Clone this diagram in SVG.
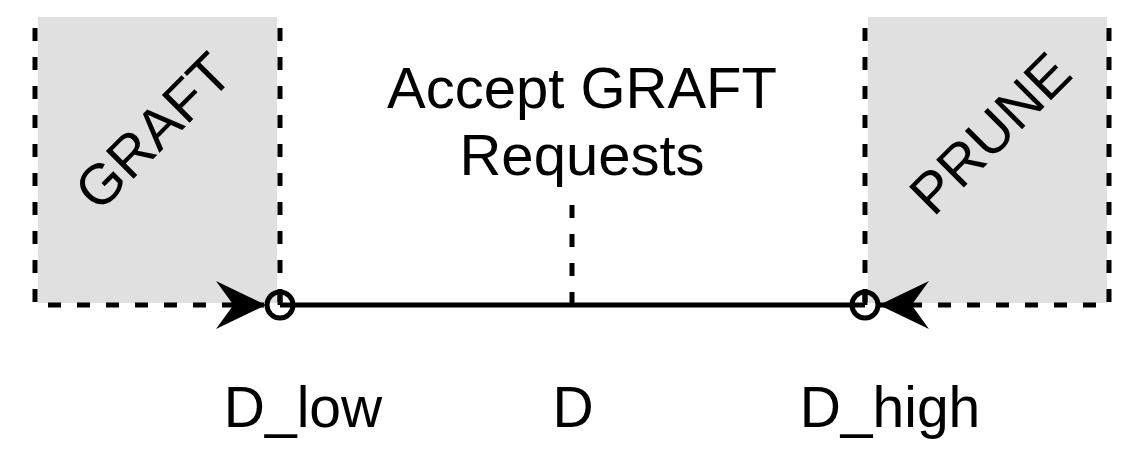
<svg xmlns="http://www.w3.org/2000/svg" width="1130" height="449" viewBox="0 0 1130 449">
<style>
.t{font-family:"Liberation Sans",Arial,sans-serif;font-size:57px;fill:#000;text-anchor:middle}
.dash{fill:none;stroke:#000;stroke-width:5;stroke-dasharray:13 16}
.solid{fill:none;stroke:#000;stroke-width:5}
.box{fill:#e0e0e0;stroke:none}
</style>
<defs>
<marker id="arr" markerUnits="userSpaceOnUse" markerWidth="50" markerHeight="50" viewBox="0 0 46 44" refX="46" refY="22" orient="auto">
<path d="M0,0 L46,22 L0,44 L16,22 Z" fill="#000"/>
</marker>
</defs>
<g id="graft">
<rect class="box" x="38" y="17" width="239" height="286"/>
<text class="t" transform="translate(153,131) rotate(-45)" y="20">GRAFT</text>
</g>
<g id="prune">
<rect class="box" x="868" y="17" width="239" height="286"/>
<text class="t" transform="translate(990,133) rotate(-45)" y="20">PRUNE</text>
</g>
<g id="accept">
<text class="t" x="582" y="108" style="font-size:58px">Accept GRAFT</text>
<text class="t" x="582" y="175" style="font-size:58px">Requests</text>
</g>
<g id="labels">
<text class="t" x="303" y="427">D_low</text>
<text class="t" x="573" y="427">D</text>
<text class="t" x="890" y="427">D_high</text>
</g>
<g id="connectors">
<path class="solid" d="M280,305 H865"/>
<path class="dash" d="M572,205 V305"/>
<path class="dash" d="M280,28 V305"/>
<path class="dash" d="M865,28 V305"/>
<path class="dash" d="M35,28 V305 H266" marker-end="url(#arr)"/>
<path class="dash" d="M1109,28 V305 H879" marker-end="url(#arr)"/>
</g>
<g id="dlow">
<circle cx="280" cy="305" r="13" fill="none" stroke="#000" stroke-width="5"/>
<path class="solid" d="M280,292 V305"/>
</g>
<g id="dhigh">
<circle cx="865" cy="305" r="13" fill="none" stroke="#000" stroke-width="5"/>
<path class="solid" d="M865,292 V305"/>
</g>
</svg>
